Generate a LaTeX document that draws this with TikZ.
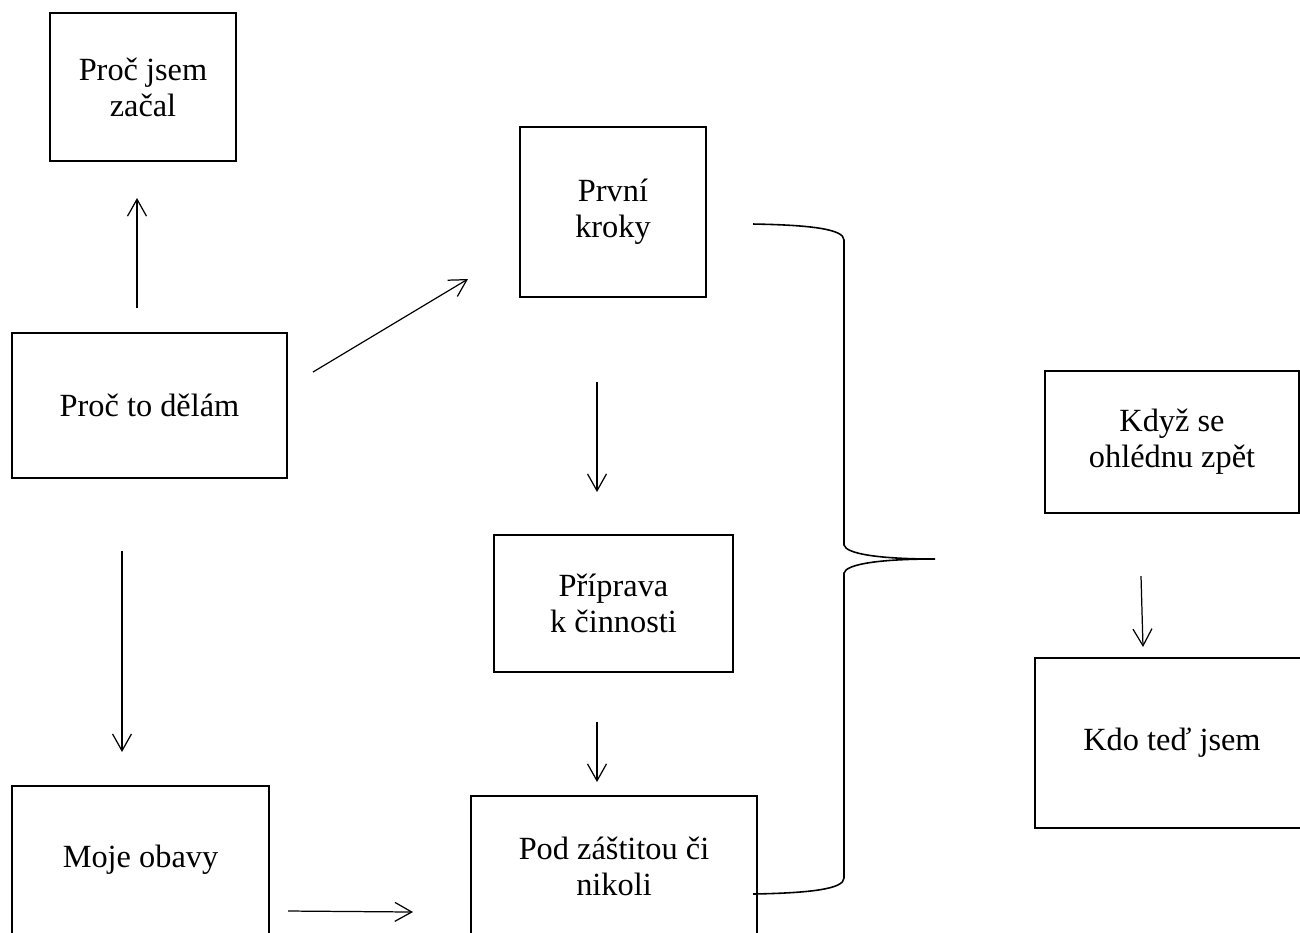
\documentclass[tikz,border=0pt]{standalone}
\usepackage{fontspec}
\setmainfont{Liberation Serif}
\usetikzlibrary{arrows.meta}
\begin{document}
\begin{tikzpicture}
[x=0.01cm,y=-0.01cm,
 blok/.style={draw,line width=0.55pt,align=center,inner sep=0pt,
   font=\fontsize{9.2}{10.3}\selectfont},
 sipka/.style={-{Straight Barb[length=4.8pt,width=5.4pt]},line width=0.35pt}]
\useasboundingbox (0,0) rectangle (1300,932);
\clip (0,0) rectangle (1300,932);

\node[blok,minimum width=1.86cm,minimum height=1.48cm] (zacal) at (143,87) {Proč jsem\\začal};
\node[blok,minimum width=2.75cm,minimum height=1.45cm] (delam) at (149.5,405.5) {Proč to dělám};
\node[blok,minimum width=2.57cm,minimum height=1.48cm] (obavy) at (140.5,860) {Moje obavy};
\node[blok,minimum width=1.86cm,minimum height=1.70cm] (kroky) at (613,212) {První\\kroky};
\node[blok,minimum width=2.39cm,minimum height=1.37cm] (priprava) at (613.5,603.5) {Příprava\\k činnosti};
\node[blok,minimum width=2.86cm,minimum height=1.40cm] (zastita) at (614,866) {Pod záštitou či\\nikoli};
\node[blok,minimum width=2.54cm,minimum height=1.42cm] (zpet) at (1172,442) {Když se\\ohlédnu zpět};
\node[blok,minimum width=2.74cm,minimum height=1.70cm] (ted) at (1172,743) {Kdo teď jsem};

% konce sipek
\coordinate (a1) at (137,308); \coordinate (b1) at (137,198);
\coordinate (a2) at (313,372); \coordinate (b2) at (468,279);
\coordinate (a3) at (122,551); \coordinate (b3) at (122,752);
\coordinate (a4) at (597,382); \coordinate (b4) at (597,492);
\coordinate (a5) at (597,722); \coordinate (b5) at (597,782);
\coordinate (a6) at (288,911); \coordinate (b6) at (413,912);
\coordinate (a7) at (1141,576); \coordinate (b7) at (1143,647);

\draw[sipka] (a1) -- (b1);
\draw[sipka] (a2) -- (b2);
\draw[sipka] (a3) -- (b3);
\draw[sipka] (a4) -- (b4);
\draw[sipka] (a5) -- (b5);
\draw[sipka] (a6) -- (b6);
\draw[sipka] (a7) -- (b7);

% slozena zavorka
\draw[line width=0.45pt] (753,224) .. controls (810,225) and (844,229) .. (844,240)
  -- (844,545) .. controls (846,554) and (880,559) .. (935,559)
  .. controls (880,559) and (846,564) .. (844,573)
  -- (844,878) .. controls (844,889) and (810,893) .. (753,894);
\end{tikzpicture}
\end{document}
